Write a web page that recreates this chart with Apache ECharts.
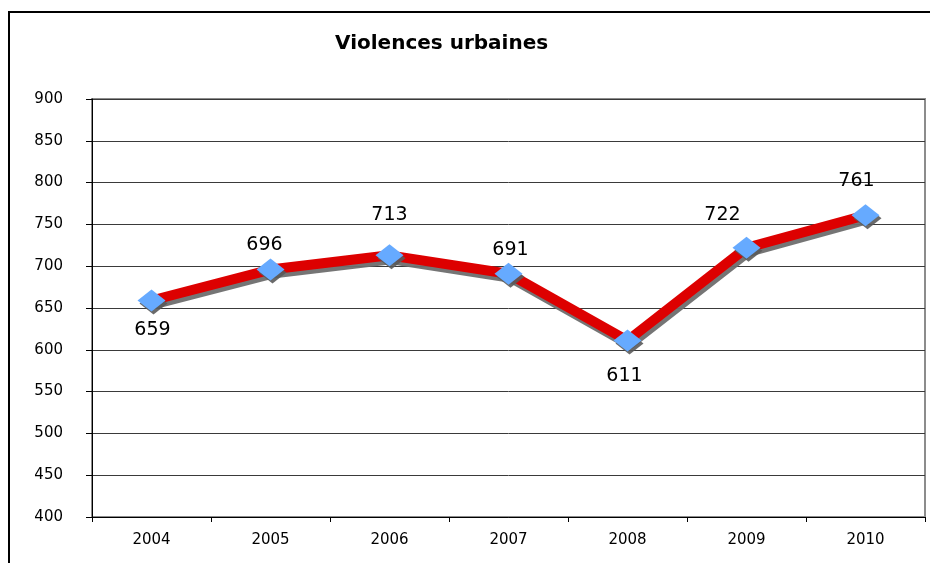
<!DOCTYPE html>
<html><head><meta charset="utf-8">
<script src="https://cdn.jsdelivr.net/npm/echarts@6/dist/echarts.min.js"></script>
<style>html,body{margin:0;padding:0;background:#fff}#c{width:930px;height:563px}</style>
</head><body><div id="c"></div>
<script>
var categories = ['2004','2005','2006','2007','2008','2009','2010'];
var values = [659, 696, 713, 691, 611, 722, 761];
var labelOffsets = [[1, 30], [-6, -24], [0, -40], [2, -24], [-3, 35], [-24, -33], [-9, -34]];
var yTicks = {min: 400, max: 900, interval: 50};

var chart = echarts.init(document.getElementById('c'));
var font = 'DejaVu Sans, Verdana, sans-serif';
chart.setOption({
  animation: false,
  title: {text: 'Violences urbaines', left: 335, top: 34, padding: 0,
    textStyle: {fontFamily: font, fontSize: 20, fontWeight: 'bold', color: '#000'}},
  graphic: [{type: 'rect', shape: {x: 9, y: 12, width: 2000, height: 2000},
    style: {fill: null, stroke: '#000', lineWidth: 2}, z: -1}],
  grid: {left: 92, right: 5, top: 99, bottom: 46, show: true, borderColor: '#8c8c8c', borderWidth: 2, backgroundColor: 'transparent'},
  xAxis: {type: 'category', data: categories, boundaryGap: true,
    axisLine: {lineStyle: {color: '#000', width: 1}},
    axisTick: {show: true, length: 5, lineStyle: {color: '#000'}},
    axisLabel: {fontFamily: font, fontSize: 15, color: '#000', margin: 16}},
  yAxis: {type: 'value', min: yTicks.min, max: yTicks.max, interval: yTicks.interval,
    axisLine: {show: true, lineStyle: {color: '#000', width: 1}},
    axisTick: {show: true, length: 6, lineStyle: {color: '#000'}},
    splitLine: {lineStyle: {color: '#3a3a3a', width: 1}},
    axisLabel: {fontFamily: font, fontSize: 15, color: '#000', margin: 29}},
  series: [{type: 'line', data: values.map(function(v, i){
      return {value: v, label: {position: 'inside', offset: labelOffsets[i]}};
    }),
    symbol: 'diamond', symbolSize: [28, 22],
    itemStyle: {color: '#66aaff', shadowColor: 'rgba(90,90,90,0.9)', shadowOffsetX: 2, shadowOffsetY: 3, shadowBlur: 0},
    lineStyle: {color: '#dd0000', width: 10, shadowColor: 'rgba(110,110,110,0.95)', shadowOffsetX: 2, shadowOffsetY: 4, shadowBlur: 0},
    label: {show: true, fontFamily: font, fontSize: 19, color: '#000'}
  }]
});
</script></body></html>
